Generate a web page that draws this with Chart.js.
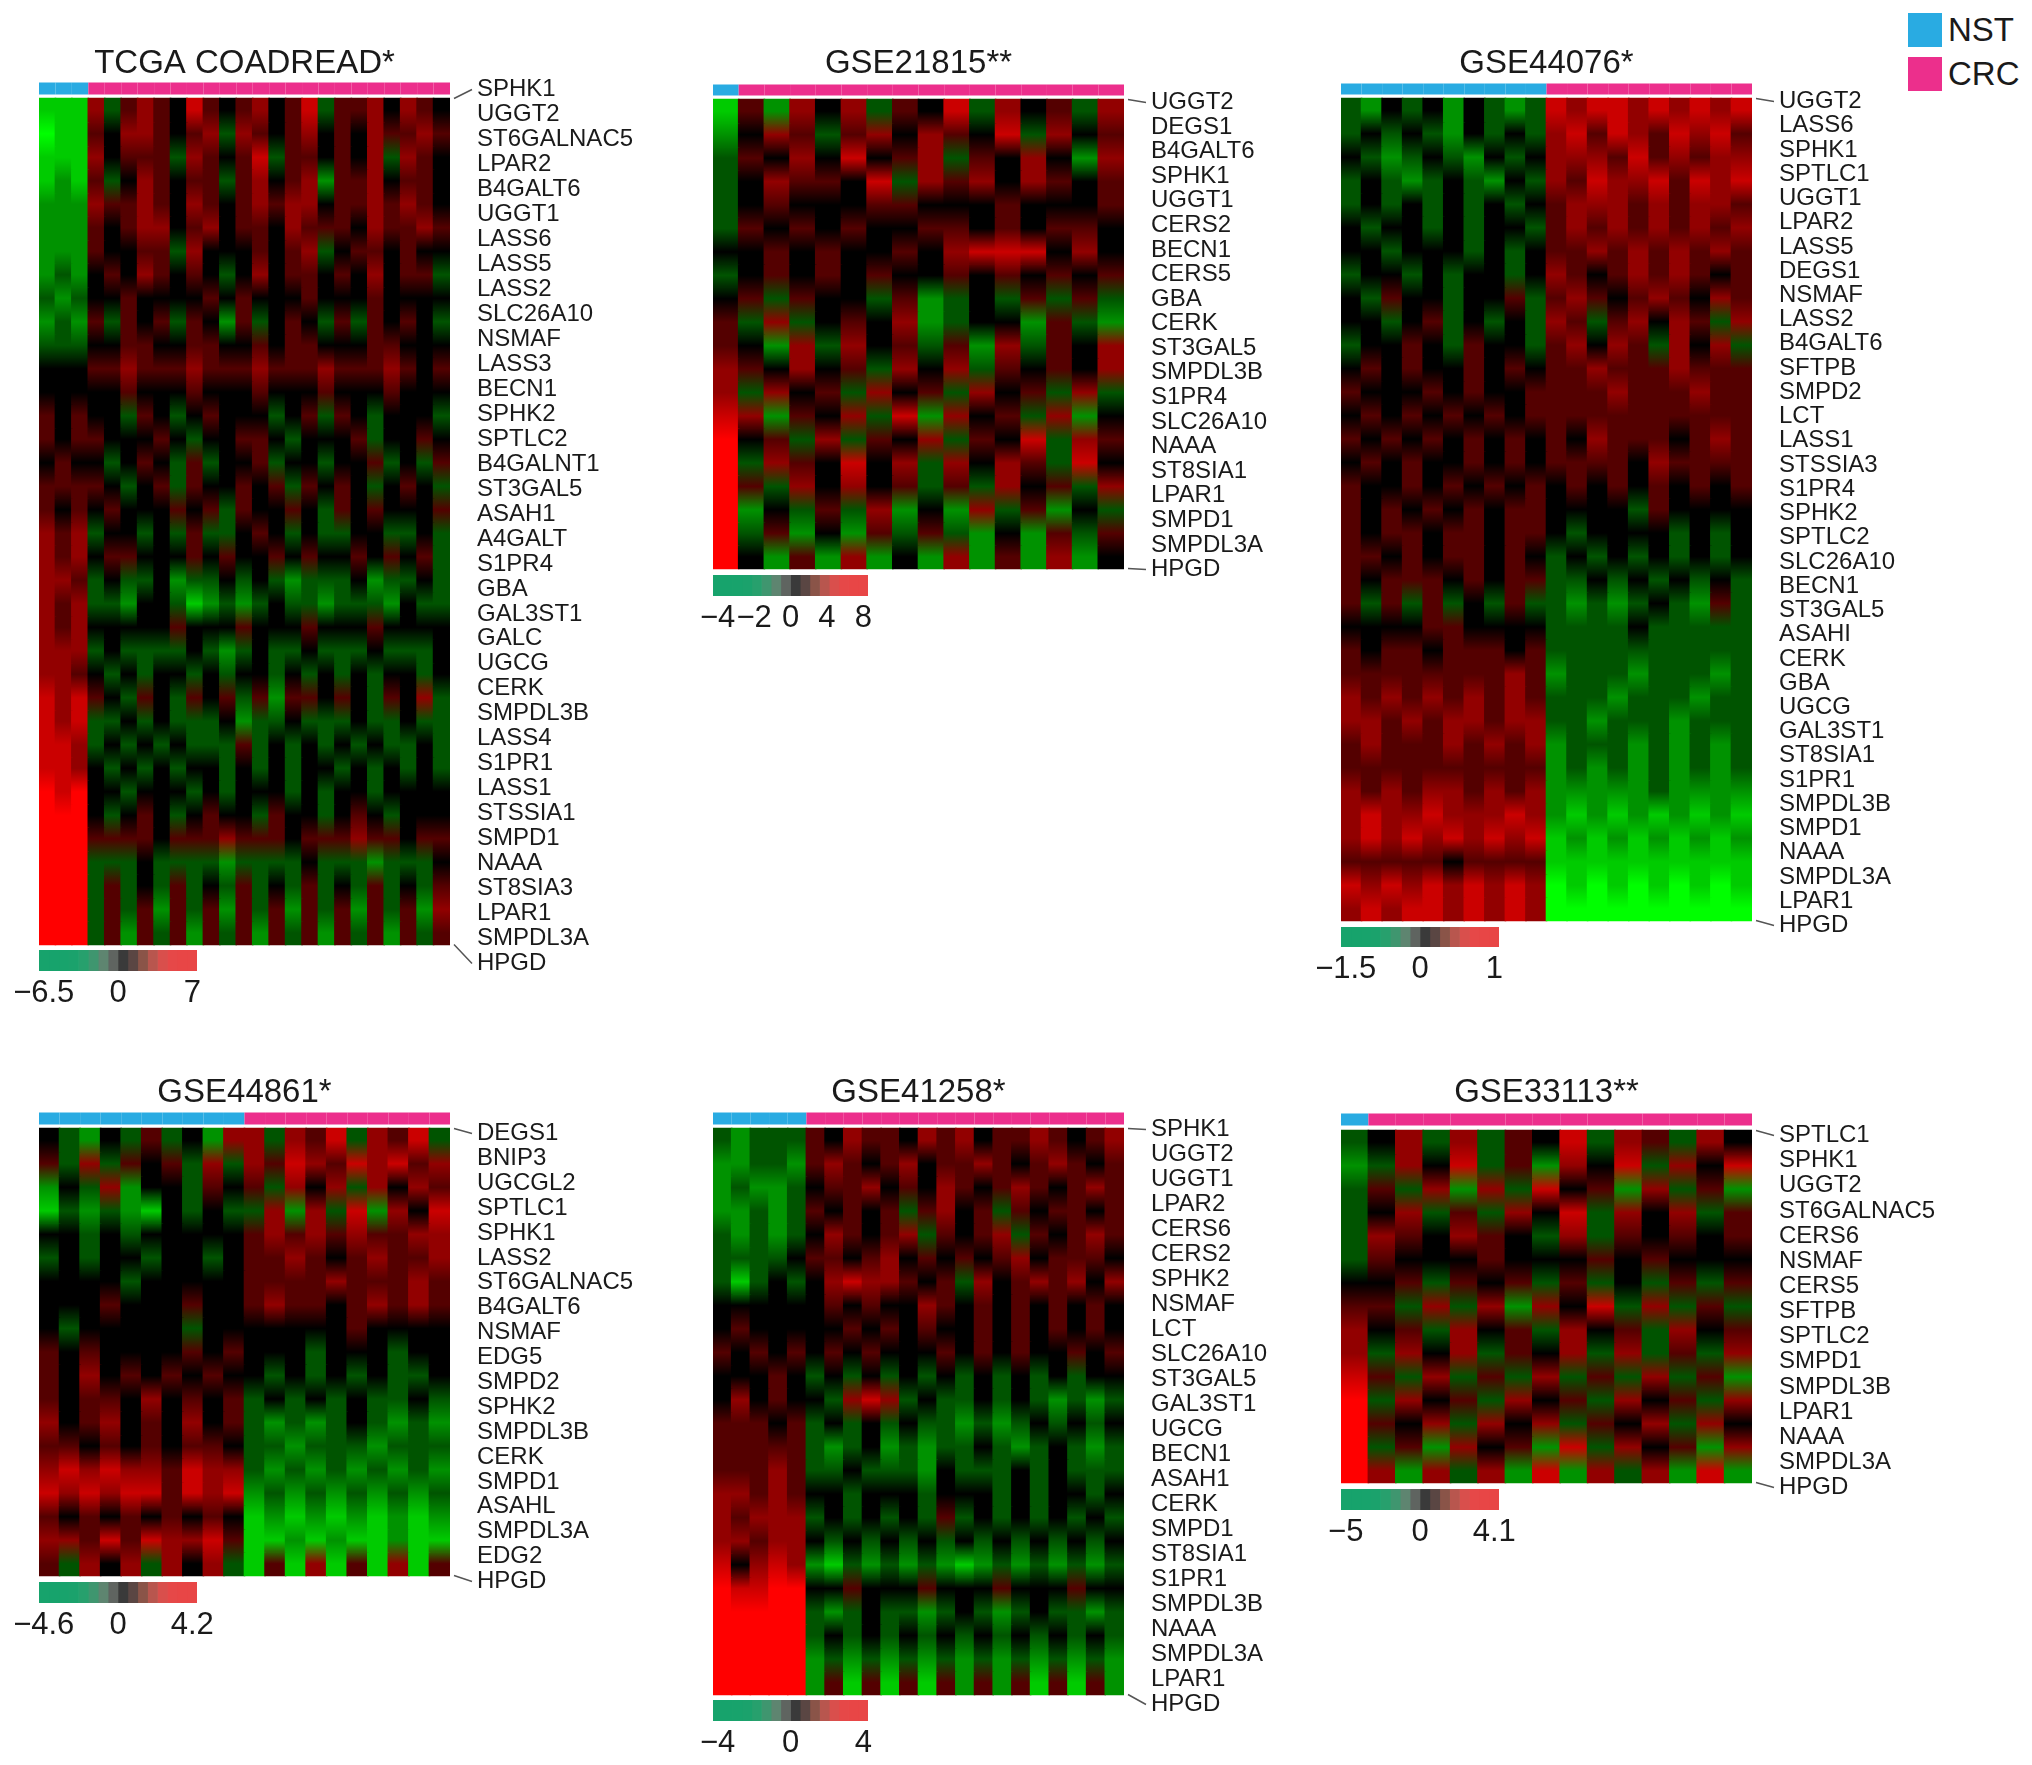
<!DOCTYPE html>
<html>
<head>
<meta charset="utf-8">
<script src="https://cdn.jsdelivr.net/npm/chart.js@4.4.1/dist/chart.umd.min.js"></script>
<style>
  body { margin: 0; background: #fff; }
  #page { position: relative; width: 2032px; height: 1765px; font-family: 'Liberation Sans', Arial, sans-serif; }
  .box { position: absolute; }
  .swatch { position: absolute; width: 34px; height: 34px; }
  .swatch-text { position: absolute; font-size: 33px; line-height: 34px; color: #1a1a1a; }
</style>
</head>
<body>
<div id="page">
  <div class="swatch" style="left:1908px; top:13px; background:#29abe2"></div>
  <div class="swatch-text" style="left:1948px; top:13px">NST</div>
  <div class="swatch" style="left:1908px; top:57px; background:#ec2f8c"></div>
  <div class="swatch-text" style="left:1948px; top:57px">CRC</div>
</div>
<script>
// Expression levels, one character per block of samples:
// 0 = brightest green, 4 = black, 8 = brightest red.
// NST blocks and CRC blocks are kept apart, row order follows the gene list.

// TCGA COADREAD
const tcgaGenes = ["SPHK1", "UGGT2", "ST6GALNAC5", "LPAR2", "B4GALT6", "UGGT1", "LASS6", "LASS5", "LASS2",
  "SLC26A10", "NSMAF", "LASS3", "BECN1", "SPHK2", "SPTLC2", "B4GALNT1", "ST3GAL5", "ASAH1", "A4GALT",
  "S1PR4", "GBA", "GAL3ST1", "GALC", "UGCG", "CERK", "SMPDL3B", "LASS4", "S1PR1", "LASS1", "STSSIA1",
  "SMPD1", "NAAA", "ST8SIA3", "LPAR1", "SMPDL3A", "HPGD"];
const tcgaNst = ["111", "011", "111", "121", "222", "222", "222", "232", "323", "232", "333", "444",
  "444", "545", "545", "454", "555", "545", "656", "656", "665", "656", "656", "666", "665", "767",
  "767", "776", "776", "878", "888", "888", "888", "888", "888", "888"];
const tcgaCrc = [
  "6356547545645735564654", "5466545636545645465565", "6455536545735545463654", "5346545535645625564554",
  "6556546545656645565654", "5456645645546555465565", "5445536444545634554544", "4546545434645545464553",
  "4454444545444544454444", "5354535425345435354543", "4455445544545544455444", "5565556555655565556545",
  "4454445444544454445444", "4435434544434535434443", "5444543445543444534454", "4345435344534434453435",
  "5434535445453545434543", "4544454535445435454445", "3443435334543433443343", "4554445454454544545453",
  "3433423343432333423343", "3324431232343323332433", "4444454445444544454444", "3433334323433433343334",
  "4343443434434343434434", "5435435453525545435463", "3343433342334333433433", "3434343335343434343343",
  "4343434434343443434343", "4434443434443434434444", "4345434544354434543444", "5555455565554555655455",
  "3334333323333433323334", "3534353435343534353435", "3535253525352535253526", "3525352535253525352535"];
const tcgaScale = [-6.5, 0, 7];

// GSE21815
const gse21815Genes = ["UGGT2", "DEGS1", "B4GALT6", "SPHK1", "UGGT1", "CERS2", "BECN1", "CERS5", "GBA", "CERK",
  "ST3GAL5", "SMPDL3B", "S1PR4", "SLC26A10", "NAAA", "ST8SIA1", "LPAR1", "SMPD1", "SMPDL3A", "HPGD"];
const gse21815Nst = ["1", "2", "3", "3", "3", "3", "4", "3", "4", "5", "5", "6", "6", "7", "8", "8", "8", "8", "8", "8"];
const gse21815Crc = [
  "526463547364536", "465356465473645", "546474563546426", "465547365646545", "454445544454445",
  "545454455454554", "454544546777464", "454545445454545", "535443523435353", "363454623442532",
  "426364535263546", "546453646354546", "364536453645363", "625463726453624", "453635463547365",
  "365474636465374", "536464535364536", "243536242635243", "352425353242535", "425262426252624"];
const gse21815Scale = [-4, -2, 0, 4, 8];

// GSE44076
const gse44076Genes = ["UGGT2", "LASS6", "SPHK1", "SPTLC1", "UGGT1", "LPAR2", "LASS5", "DEGS1", "NSMAF", "LASS2",
  "B4GALT6", "SFTPB", "SMPD2", "LCT", "LASS1", "STSSIA3", "S1PR4", "SPHK2", "SPTLC2", "SLC26A10", "BECN1",
  "ST3GAL5", "ASAHI", "CERK", "GBA", "UGCG", "GAL3ST1", "ST8SIA1", "S1PR1", "SMPDL3B", "SMPD1", "NAAA",
  "SMPDL3A", "LPAR1", "HPGD"];
const gse44076Nst = [
  "3243424323", "3434324343", "4323432434", "3432343243", "3434343434", "4344343443", "4434443434",
  "3443434434", "4354434453", "4434534343", "3445435443", "4545445454", "5444545445", "4545454545",
  "5454545454", "4545445454", "5445454545", "5454545455", "5455455455", "5545455454", "5455545455",
  "5353534353", "4444554444", "5455455545", "5555555565", "6565656565", "6656566566", "5655565656",
  "5555555555", "6565665656", "6766766676", "6767676767", "5555545555", "7676767676", "6767767676"];
const gse44076Crc = [
  "7677676767", "6757657675", "6665756566", "6576675767", "5666565665", "5656565656", "5565656565",
  "6545656545", "5654565465", "6535646536", "5646536463", "5565556555", "5556555655", "5555555555",
  "5465554565", "5555465555", "4545454545", "4444354444", "4344443434", "3434343434", "3343434343",
  "3232343253", "3333433333", "3333333333", "2333233323", "3332333233", "3323332333", "2333232323",
  "2323232323", "2222232222", "2121212121", "1212121212", "1111111111", "0101010101", "0000000000"];
const gse44076Scale = [-1.5, 0, 1];

// GSE44861
const gse44861Genes = ["DEGS1", "BNIP3", "UGCGL2", "SPTLC1", "SPHK1", "LASS2", "ST6GALNAC5", "B4GALT6", "NSMAF",
  "EDG5", "SMPD2", "SPHK2", "SMPDL3B", "CERK", "SMPD1", "ASAHL", "SMPDL3A", "EDG2", "HPGD"];
const gse44861Nst = [
  "4324353426", "5363545363", "2436244354", "1323214343", "4434344444", "3434434434", "4444344444",
  "4445444544", "4344444344", "5454444545", "5464545454", "5455464545", "6456454645", "5545454554",
  "6767665766", "7676775767", "5454545454", "6657576675", "5364636463"];
const gse44861Crc = [
  "6365736573", "6576576756", "5364636465", "3626372647", "5656565566", "5565456556", "5555655565",
  "5655456565", "4444454444", "4443444344", "4343434334", "3434343343", "3232343232", "3323332333",
  "3232323232", "2323232323", "1212121212", "1121211211", "1516151615"];
const gse44861Scale = [-4.6, 0, 4.2];

// GSE41258
const gse41258Genes = ["SPHK1", "UGGT2", "UGGT1", "LPAR2", "CERS6", "CERS2", "SPHK2", "NSMAF", "LCT", "SLC26A10",
  "ST3GAL5", "GAL3ST1", "UGCG", "BECN1", "ASAH1", "CERK", "SMPD1", "ST8SIA1", "S1PR1", "SMPDL3B", "NAAA",
  "SMPDL3A", "LPAR1", "HPGD"];
const gse41258Nst = ["32333", "22332", "23223", "22323", "32323", "33334", "31343", "44444", "45444", "54545",
  "44454", "46454", "55545", "55555", "55565", "66565", "65666", "66566", "74676", "87788", "88888",
  "88888", "88888", "88888"];
const gse41258Crc = [
  "54655465645565456", "56545645565456545", "45564546545654565", "54545356453545545", "46545635456354565",
  "55456454545645554", "46766545364565646", "45454465454545454", "44545454454545454", "45454445454544545",
  "34343434343434344", "43676343343432323", "34343433232343434", "32342323343234323", "33433324333434333",
  "44344434443434434", "34343435343434343", "43434343434343434", "21323232123232323", "44544454445444544",
  "32343323432343323", "34343434343434343", "23232323232323232", "25151515252515152"];
const gse41258Scale = [-4, 0, 4];

// GSE33113
const gse33113Genes = ["SPTLC1", "SPHK1", "UGGT2", "ST6GALNAC5", "CERS6", "NSMAF", "CERS5", "SFTPB", "SPTLC2",
  "SMPD1", "SMPDL3B", "LPAR1", "NAAA", "SMPDL3A", "HPGD"];
const gse33113Nst = ["3", "2", "3", "3", "3", "3", "4", "5", "6", "6", "7", "8", "8", "8", "8"];
const gse33113Crc = [
  "46363547365364", "36473526473647", "53626374526352", "46353647364635", "65465436354545",
  "54445444545444", "45354535343535", "53636264736353", "45364536453645", "36463546363536",
  "53635363536352", "36453645364536", "54636463546364", "35264527364526", "62636272636272"];
const gse33113Scale = [-5, 0, 4.1];

// styling
const FONT = "'Liberation Sans', Arial, sans-serif";
const INK = "#1a1a1a";
const NST_COLOR = "#29abe2";
const CRC_COLOR = "#ec2f8c";
const TITLE_SIZE = 33;
const LABEL_AXIS = 240;
const KEY_AXIS = 44;
const KEY_PAD = 45;
const KEY_COLORS = ["#17a36c", "#17a36c", "#18a36c", "#1ba26c", "#27a06d", "#3f966f", "#5e8570", "#5f6460",
  "#3a3a3a", "#5a4643", "#8a5448", "#b8564e", "#d94f4c", "#e64848", "#e84646", "#e84646"];

Chart.defaults.font.family = FONT;

// where each panel sits on the page (px)
const panels = [
  { title: "TCGA COADREAD*", genes: tcgaGenes, nst: tcgaNst, crc: tcgaCrc, scale: tcgaScale,
    box: { left: 39, right: 450, titleY: 63, barTop: 82, barBottom: 94, top: 98, bottom: 944,
           firstLabel: 89, lastLabel: 963, keyTop: 950, keyBottom: 971, keyRight: 197 } },
  { title: "GSE21815**", genes: gse21815Genes, nst: gse21815Nst, crc: gse21815Crc, scale: gse21815Scale,
    box: { left: 713, right: 1124, titleY: 63, barTop: 84, barBottom: 95, top: 99, bottom: 568,
           firstLabel: 102, lastLabel: 569, keyTop: 575, keyBottom: 596, keyRight: 868 } },
  { title: "GSE44076*", genes: gse44076Genes, nst: gse44076Nst, crc: gse44076Crc, scale: gse44076Scale,
    box: { left: 1341, right: 1752, titleY: 63, barTop: 83, barBottom: 94, top: 98, bottom: 920,
           firstLabel: 101, lastLabel: 925, keyTop: 927, keyBottom: 947, keyRight: 1499 } },
  { title: "GSE44861*", genes: gse44861Genes, nst: gse44861Nst, crc: gse44861Crc, scale: gse44861Scale,
    box: { left: 39, right: 450, titleY: 1092, barTop: 1112, barBottom: 1124, top: 1128, bottom: 1575,
           firstLabel: 1133, lastLabel: 1581, keyTop: 1582, keyBottom: 1603, keyRight: 197 } },
  { title: "GSE41258*", genes: gse41258Genes, nst: gse41258Nst, crc: gse41258Crc, scale: gse41258Scale,
    box: { left: 713, right: 1124, titleY: 1092, barTop: 1112, barBottom: 1124, top: 1128, bottom: 1694,
           firstLabel: 1129, lastLabel: 1704, keyTop: 1700, keyBottom: 1721, keyRight: 868 } },
  { title: "GSE33113**", genes: gse33113Genes, nst: gse33113Nst, crc: gse33113Crc, scale: gse33113Scale,
    box: { left: 1341, right: 1752, titleY: 1092, barTop: 1113, barBottom: 1125, top: 1130, bottom: 1482,
           firstLabel: 1135, lastLabel: 1487, keyTop: 1489, keyBottom: 1510, keyRight: 1499 } },
];

const page = document.getElementById("page");

function place(left, top, width, height) {
  const div = document.createElement("div");
  div.className = "box";
  div.style.left = left + "px";
  div.style.top = top + "px";
  div.style.width = width + "px";
  div.style.height = height + "px";
  const canvas = document.createElement("canvas");
  div.appendChild(canvas);
  page.appendChild(div);
  return canvas;
}

// green - black - red
function levelRgb(ch) {
  const t = (Number(ch) - 4) / 4;
  const v = Math.round(255 * Math.pow(Math.abs(t), 0.8));
  return t < 0 ? [0, v, 0] : [v, 0, 0];
}
const css = (c) => `rgb(${c[0]},${c[1]},${c[2]})`;
const mix = (a, b) => a.map((v, i) => Math.round((v + b[i]) / 2));

// each cell fades into the cells above and below, like the resampled original
function rowFill(rows, r) {
  const stops = rows[r].split("").map((ch, c) => {
    const cur = levelRgb(ch);
    const up = r > 0 ? mix(cur, levelRgb(rows[r - 1][c])) : cur;
    const down = r < rows.length - 1 ? mix(cur, levelRgb(rows[r + 1][c])) : cur;
    return [css(up), css(cur), css(down)];
  });
  return (ctx) => {
    const s = stops[ctx.dataIndex];
    const chart = ctx.chart;
    if (!s) return "#000";
    if (!chart.chartArea || !chart.scales.y) return s[1];
    const y = chart.scales.y;
    const g = chart.ctx.createLinearGradient(0, y.getPixelForValue(r), 0, y.getPixelForValue(r + 1));
    g.addColorStop(0, s[0]);
    g.addColorStop(0.5, s[1]);
    g.addColorStop(1, s[2]);
    return g;
  };
}

function fmt(v) {
  return v < 0 ? "\u2212" + Math.abs(v) : String(v);
}

// the two slanted leader lines to the first and last gene name
const leaders = {
  id: "leaders",
  afterDraw(chart) {
    const { ctx, chartArea, scales } = chart;
    const n = scales.genes.ticks.length;
    const x0 = chartArea.right + 4;
    const x1 = chartArea.right + 22;
    ctx.save();
    ctx.strokeStyle = "#555";
    ctx.lineWidth = 1.5;
    ctx.beginPath();
    ctx.moveTo(x0, scales.y.getPixelForValue(0));
    ctx.lineTo(x1, scales.genes.getPixelForValue(0));
    ctx.moveTo(x0, scales.y.getPixelForValue(n));
    ctx.lineTo(x1, scales.genes.getPixelForValue(n - 1));
    ctx.stroke();
    ctx.restore();
  },
};

function drawHeatmap(p) {
  const b = p.box;
  const n = p.genes.length;
  const rows = p.genes.map((g, i) => p.nst[i] + p.crc[i]);
  const nNst = p.nst[0].length;
  const cols = Array.from({ length: rows[0].length }, (_, i) => i);

  const canvasTop = b.titleY - TITLE_SIZE / 2;
  const chartTop = b.titleY + TITLE_SIZE / 2;
  const chartBottom = Math.max(b.bottom, b.lastLabel) + 4;
  const rowPx = (b.bottom - b.top) / n;
  const labelPx = (b.lastLabel - b.firstLabel) / (n - 1);

  const datasets = rows.map((row, r) => ({
    data: cols.map(() => [r, r + 1]),
    backgroundColor: rowFill(rows, r),
    inflateAmount: 0.8,
  }));
  // sample group strip above the heatmap
  const stripLo = (b.barTop - b.top) / rowPx;
  const stripHi = (b.barBottom - b.top) / rowPx;
  datasets.push({
    data: cols.map(() => [stripLo, stripHi]),
    backgroundColor: cols.map((c) => (c < nNst ? NST_COLOR : CRC_COLOR)),
    inflateAmount: 0,
  });

  const canvas = place(b.left, canvasTop, b.right - b.left + LABEL_AXIS, chartBottom - canvasTop + 24);
  new Chart(canvas, {
    type: "bar",
    data: { labels: cols, datasets: datasets },
    options: {
      animation: false,
      responsive: true,
      maintainAspectRatio: false,
      layout: { padding: { top: 0, left: 0, right: 0, bottom: 24 } },
      datasets: { bar: { grouped: false, barPercentage: 1, categoryPercentage: 1, borderWidth: 0 } },
      plugins: {
        legend: { display: false },
        tooltip: { enabled: false },
        title: {
          display: true,
          text: p.title,
          fullSize: false,
          color: INK,
          padding: 0,
          font: { size: TITLE_SIZE, weight: "normal", lineHeight: 1 },
        },
      },
      scales: {
        x: { display: false },
        y: {
          type: "linear",
          display: false,
          reverse: true,
          min: -(b.top - chartTop) / rowPx,
          max: n + (chartBottom - b.bottom) / rowPx,
        },
        genes: {
          type: "linear",
          position: "right",
          reverse: true,
          min: -(b.firstLabel - chartTop) / labelPx,
          max: n - 1 + (chartBottom - b.lastLabel) / labelPx,
          afterBuildTicks: (axis) => {
            axis.ticks = p.genes.map((g, i) => ({ value: i }));
          },
          afterFit: (axis) => {
            axis.width = LABEL_AXIS;
          },
          grid: { drawOnChartArea: false, drawTicks: true, tickLength: 27, color: "rgba(0,0,0,0)" },
          border: { display: false },
          ticks: {
            padding: 0,
            autoSkip: false,
            color: INK,
            font: { size: 24 },
            callback: (v) => p.genes[v],
          },
        },
      },
    },
    plugins: [leaders],
  });
}

function drawKey(p) {
  const b = p.box;
  const steps = KEY_COLORS.length;
  const lo = p.scale[0];
  const hi = p.scale[p.scale.length - 1];
  const pos = (v) => (v < 0 ? 0.5 - 0.47 * (v / lo) : 0.5 + 0.47 * (v / hi));

  const canvas = place(b.left - KEY_PAD, b.keyTop, b.keyRight - b.left + 2 * KEY_PAD, b.keyBottom - b.keyTop + KEY_AXIS);
  new Chart(canvas, {
    type: "bar",
    data: {
      labels: [""],
      datasets: KEY_COLORS.map((c, i) => ({ data: [[i / steps, (i + 1) / steps]], backgroundColor: c })),
    },
    options: {
      indexAxis: "y",
      animation: false,
      responsive: true,
      maintainAspectRatio: false,
      layout: { padding: { top: 0, bottom: 0, left: KEY_PAD, right: KEY_PAD } },
      datasets: { bar: { grouped: false, barPercentage: 1, categoryPercentage: 1, borderWidth: 0 } },
      plugins: { legend: { display: false }, tooltip: { enabled: false } },
      scales: {
        y: { display: false },
        x: {
          type: "linear",
          min: 0,
          max: 1,
          afterBuildTicks: (axis) => {
            axis.ticks = p.scale.map((v) => ({ value: pos(v) }));
          },
          afterFit: (axis) => {
            axis.height = KEY_AXIS;
          },
          grid: { display: false },
          border: { display: false },
          ticks: {
            autoSkip: false,
            maxRotation: 0,
            padding: -4,
            color: INK,
            font: { size: 31 },
            callback: (v, i) => fmt(p.scale[i]),
          },
        },
      },
    },
  });
}

panels.forEach((p) => {
  drawHeatmap(p);
  drawKey(p);
});
</script>
</body>
</html>
